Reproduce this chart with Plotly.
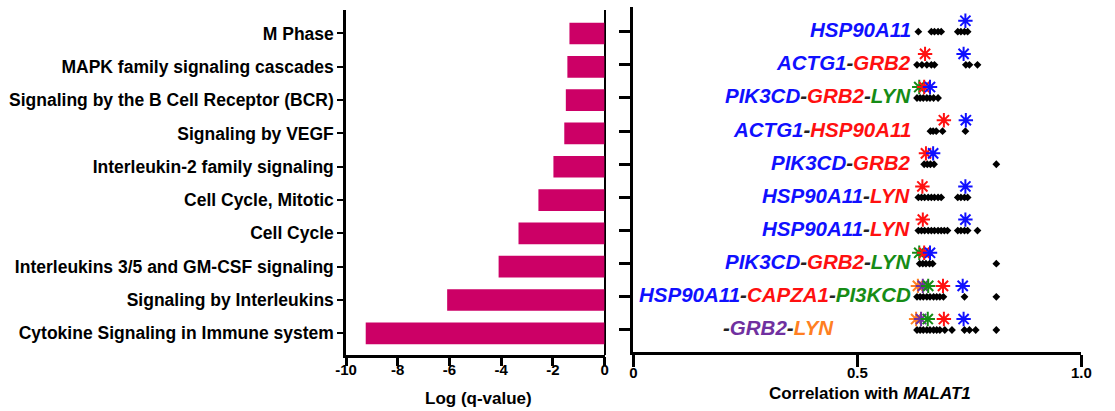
import plotly.graph_objects as go

# ---- data -------------------------------------------------------------
pathways = [
    "M Phase",
    "MAPK family signaling cascades",
    "Signaling by the B Cell Receptor (BCR)",
    "Signaling by VEGF",
    "Interleukin-2 family signaling",
    "Cell Cycle, Mitotic",
    "Cell Cycle",
    "Interleukins 3/5 and GM-CSF signaling",
    "Signaling by Interleukins",
    "Cytokine Signaling in Immune system",
]
log_q = [-1.36, -1.44, -1.50, -1.56, -1.98, -2.56, -3.33, -4.10, -6.09, -9.24]

left_ticks = [-10, -8, -6, -4, -2, 0]
right_ticks = [0, 0.5, 1.0]
right_ticktext = ["0", "0.5", "1.0"]

# gene combinations per row (segments, colour key)
gene_rows = [
    [("HSP90A11", "blue")],
    [("ACTG1", "blue"), ("GRB2", "red")],
    [("PIK3CD", "blue"), ("GRB2", "red"), ("LYN", "green")],
    [("ACTG1", "blue"), ("HSP90A11", "red")],
    [("PIK3CD", "blue"), ("GRB2", "red")],
    [("HSP90A11", "blue"), ("LYN", "red")],
    [("HSP90A11", "blue"), ("LYN", "red")],
    [("PIK3CD", "blue"), ("GRB2", "red"), ("LYN", "green")],
    [("HSP90A11", "blue"), ("CAPZA1", "red"), ("PI3KCD", "green")],
    [("", "dash"), ("GRB2", "purple"), ("LYN", "orange")],
]

# correlation of each member with MALAT1 (black diamonds)
corr_points = [
    [0.636, 0.665, 0.672, 0.680, 0.687, 0.724, 0.731, 0.739, 0.746],
    [0.633, 0.644, 0.655, 0.665, 0.672, 0.742, 0.750, 0.768],
    [0.633, 0.640, 0.647, 0.655, 0.662, 0.670, 0.680],
    [0.663, 0.669, 0.676, 0.690, 0.741],
    [0.649, 0.656, 0.663, 0.671, 0.810],
    [0.636, 0.643, 0.650, 0.658, 0.665, 0.672, 0.680, 0.687, 0.724, 0.731, 0.739, 0.746],
    [0.636, 0.643, 0.650, 0.658, 0.665, 0.672, 0.680, 0.687, 0.694, 0.701,
     0.724, 0.731, 0.739, 0.746, 0.768],
    [0.639, 0.646, 0.653, 0.661, 0.668, 0.810],
    [0.633, 0.640, 0.647, 0.655, 0.662, 0.670, 0.677, 0.684, 0.692, 0.739, 0.810],
    [0.633, 0.640, 0.647, 0.655, 0.662, 0.670, 0.677, 0.684, 0.695, 0.711,
     0.739, 0.750, 0.764, 0.810],
]

# highlighted gene correlations (asterisks), value and colour key
star_values = [
    [0.741],
    [0.651, 0.737],
    [0.638, 0.649, 0.662],
    [0.693, 0.742],
    [0.653, 0.669],
    [0.645, 0.741],
    [0.646, 0.741],
    [0.638, 0.649, 0.662],
    [0.635, 0.646, 0.658, 0.691, 0.735],
    [0.631, 0.642, 0.657, 0.693, 0.737],
]
star_colors = [
    ["blue"],
    ["red", "blue"],
    ["green", "red", "blue"],
    ["red", "blue"],
    ["red", "blue"],
    ["red", "blue"],
    ["red", "blue"],
    ["green", "red", "blue"],
    ["orange", "purple", "green", "red", "blue"],
    ["orange", "purple", "green", "red", "blue"],
]

# ---- styling ----------------------------------------------------------
PALETTE = {
    "blue": "#1010FF",
    "red": "#FF1010",
    "green": "#168C16",
    "purple": "#7030A0",
    "orange": "#FF7F22",
    "dash": "#222222",
}
BAR_COLOR = "#CC0066"
FONT = "Liberation Sans, Arial, sans-serif"
W, H = 1115, 411

n = len(pathways)
ypos = [n - 1 - i for i in range(n)]  # top row gets the highest position


def px_x(p):
    return p / W


def px_y(p):
    return 1 - p / H


fig = go.Figure()

# left panel: pathway enrichment bars
fig.add_trace(go.Bar(
    x=log_q, y=ypos, orientation="h",
    marker=dict(color=BAR_COLOR, line=dict(width=0)),
    xaxis="x", yaxis="y", showlegend=False, hoverinfo="skip",
))

# right panel: correlation diamonds
dx, dy = [], []
for row, vals in zip(ypos, corr_points):
    dx += vals
    dy += [row] * len(vals)
fig.add_trace(go.Scatter(
    x=dx, y=dy, mode="markers",
    marker=dict(symbol="diamond", size=6, color="black", line=dict(width=0)),
    xaxis="x2", yaxis="y2", showlegend=False, hoverinfo="skip",
))

# right panel: asterisks marking each gene, drawn just above the row
for key in ["orange", "purple", "green", "red", "blue"]:
    sx, sy = [], []
    for row, vals, cols in zip(ypos, star_values, star_colors):
        for v, c in zip(vals, cols):
            if c == key:
                sx.append(v)
                sy.append(row + 0.33)
    fig.add_trace(go.Scatter(
        x=sx, y=sy, mode="markers",
        marker=dict(symbol="asterisk-open", size=12, color=PALETTE[key],
                    line=dict(color=PALETTE[key], width=2)),
        xaxis="x2", yaxis="y2", showlegend=False, hoverinfo="skip",
    ))


def gene_label(segments):
    parts = []
    for gene, key in segments:
        if gene:
            parts.append(f"<span style='color:{PALETTE[key]}'>{gene}</span>")
        else:
            parts.append("")
    sep = f"<span style='color:{PALETTE['dash']}'>-</span>"
    return "<b><i>" + sep.join(parts) + "</i></b>"


annotations = []
for i, (row, segs) in enumerate(zip(ypos, gene_rows)):
    last = i == n - 1
    annotations.append(dict(
        x=0.323 if last else 0.624, y=row, xref="x2", yref="y2",
        xanchor="center" if last else "right", yanchor="middle",
        text=gene_label(segs), showarrow=False, yshift=2,
        font=dict(family=FONT, size=20.5),
    ))

annotations.append(dict(
    x=px_x(476), y=px_y(398), xref="paper", yref="paper",
    text="<b>Log (q-value)</b>", showarrow=False,
    xanchor="center", yanchor="middle",
    font=dict(family=FONT, size=17, color="black"),
))
annotations.append(dict(
    x=px_x(875), y=px_y(393), xref="paper", yref="paper",
    text="<b>Correlation with <i>MALAT1</i></b>", showarrow=False,
    xanchor="center", yanchor="middle",
    font=dict(family=FONT, size=17, color="black"),
))

axis_common = dict(
    showgrid=False, showline=True, linecolor="black", ticks="outside",
    tickcolor="black", tickfont=dict(family=FONT, size=15, color="black"),
    fixedrange=True,
)

fig.update_layout(
    width=W, height=H,
    margin=dict(l=0, r=0, t=0, b=0),
    paper_bgcolor="white", plot_bgcolor="white",
    bargap=0.35,
    font=dict(family=FONT, color="black"),
    xaxis=dict(
        axis_common, domain=[px_x(341.5), px_x(605)], range=[-10, 0],
        tickvals=left_ticks, ticktext=[f"<b>{t}</b>" for t in left_ticks],
        linewidth=2.5, ticklen=9, tickwidth=2.5, ticklabelstandoff=-9,
        zeroline=True, zerolinecolor="black", zerolinewidth=1.5,
        anchor="y",
    ),
    yaxis=dict(
        axis_common, domain=[px_y(354.5), px_y(10)], range=[-0.636, 9.705],
        tickvals=ypos, ticktext=[f"<b>{p}</b>" for p in pathways],
        tickfont=dict(family=FONT, size=17.5, color="black"),
        linewidth=2.5, ticklen=6, tickwidth=2, zeroline=False,
        anchor="x",
    ),
    xaxis2=dict(
        axis_common, domain=[px_x(634.3), px_x(1091)], range=[0, 1],
        tickvals=right_ticks, ticktext=[f"<b>{t}</b>" for t in right_ticktext],
        linewidth=2.5, ticklen=12, tickwidth=2.5, ticklabelstandoff=-7,
        zeroline=False, anchor="y2",
    ),
    yaxis2=dict(
        axis_common, domain=[px_y(352), px_y(7)], range=[-0.664, 9.745],
        tickvals=ypos, showticklabels=False,
        linewidth=2.5, ticklen=12, tickwidth=2.5, zeroline=False,
        anchor="x2",
    ),
    annotations=annotations,
)

fig.write_html("out.html")
